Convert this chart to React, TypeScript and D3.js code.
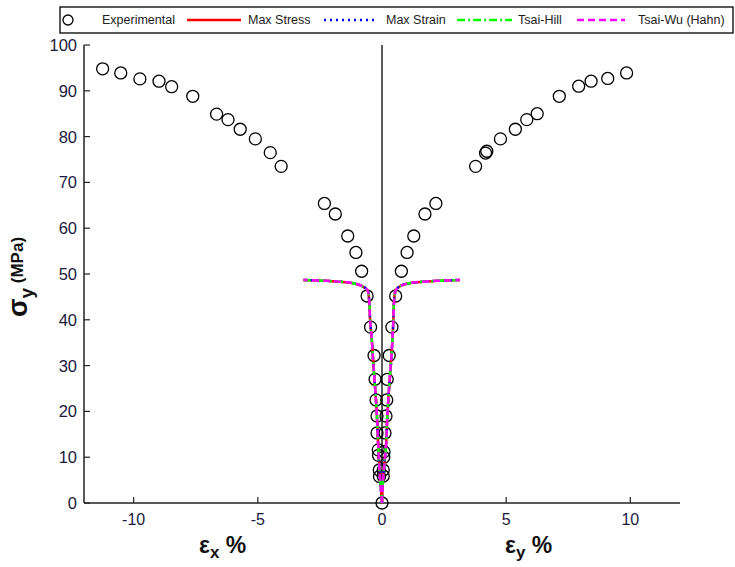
import React from 'react';
import * as d3 from 'd3';

// ---- data ----
const xTicks = [-10, -5, 0, 5, 10];
const yTicks = [0, 10, 20, 30, 40, 50, 60, 70, 80, 90, 100];

// Experimental: transverse strain (εx, negative) vs stress
const expStrainX = [-11.25, -10.52, -9.75, -8.98, -8.47, -7.62, -6.66, -6.2, -5.71, -5.1, -4.5, -4.06, -2.32, -1.88, -1.38, -1.05, -0.82, -0.6, -0.46, -0.32, -0.28, -0.24, -0.2, -0.2, -0.15, -0.14, -0.11, -0.1, 0];
const expStressX = [94.8, 93.9, 92.6, 92.1, 90.9, 88.8, 84.9, 83.7, 81.6, 79.5, 76.5, 73.5, 65.4, 63.1, 58.3, 54.7, 50.6, 45.2, 38.4, 32.2, 27.0, 22.5, 19.0, 15.3, 11.6, 10.4, 7.2, 5.8, 0];

// Experimental: axial strain (εy, positive) vs stress
const expStrainY = [9.85, 9.09, 8.42, 7.92, 7.14, 6.25, 5.83, 5.37, 4.77, 4.17, 4.22, 3.77, 2.17, 1.73, 1.28, 1.01, 0.78, 0.55, 0.4, 0.29, 0.21, 0.19, 0.16, 0.12, 0.08, 0.07, 0.05, 0.05];
const expStressY = [93.9, 92.7, 92.1, 91.0, 88.8, 85.0, 83.7, 81.6, 79.5, 76.4, 76.8, 73.5, 65.4, 63.1, 58.3, 54.7, 50.6, 45.2, 38.4, 32.2, 27.0, 22.5, 19.0, 15.3, 11.2, 10.0, 7.2, 5.9];

// Model predictions (all four criteria overlap)
const curveStress = [0, 5.8, 12.3, 19.6, 25.4, 30.5, 35.6, 40.0, 43.6, 46.5, 47.4, 48.0, 48.5, 48.7];
const curveStrainX = [0, -0.08, -0.15, -0.21, -0.28, -0.35, -0.41, -0.48, -0.51, -0.59, -0.82, -1.16, -2.23, -3.17];
const curveStrainY = [0, 0.05, 0.16, 0.22, 0.29, 0.36, 0.42, 0.46, 0.48, 0.56, 0.75, 1.1, 2.2, 3.14];

const seriesNames = ['Experimental', 'Max Stress', 'Max Strain', 'Tsai-Hill', 'Tsai-Wu (Hahn)'];

const modelStyles = [
  { name: 'Max Stress', color: '#ff0000', dash: '' },
  { name: 'Max Strain', color: '#0000ff', dash: '2,4' },
  { name: 'Tsai-Hill', color: '#00ff00', dash: '8,3,2,3' },
  { name: 'Tsai-Wu (Hahn)', color: '#ff00ff', dash: '7,4' },
];

const FONT = '"Liberation Sans", Arial, sans-serif';

export default function App() {
  const W = 735, H = 567;
  const x = d3.scaleLinear().domain([-12, 12]).range([84, 680]);
  const y = d3.scaleLinear().domain([0, 100]).range([503, 45]);

  const line = d3.line<[number, number]>()
    .x(d => x(d[0]))
    .y(d => y(d[1]))
    .curve(d3.curveCatmullRom);

  const leftPts: [number, number][] = curveStrainX.map((v, i) => [v, curveStress[i]]);
  const rightPts: [number, number][] = curveStrainY.map((v, i) => [v, curveStress[i]]);

  const expPts = [
    ...expStrainX.map((v, i) => [v, expStressX[i]]),
    ...expStrainY.map((v, i) => [v, expStressY[i]]),
  ];

  // legend layout
  const legY = 20;
  const legendItems = [
    { sx: 187, ex: 241, tx: 248 },
    { sx: 324, ex: 377, tx: 386 },
    { sx: 457, ex: 512, tx: 518 },
    { sx: 577, ex: 625, tx: 638 },
  ];

  return (
    <svg width={W} height={H} style={{ position: 'absolute', left: 0, top: 0, background: '#fff' }} fontFamily={FONT}>
      <rect x={0} y={0} width={W} height={H} fill="#fff" />

      {/* axes */}
      <line x1={x(-12)} x2={x(12)} y1={y(0)} y2={y(0)} stroke="#222" strokeWidth={1.5} />
      <line x1={x(-12)} x2={x(-12)} y1={y(0)} y2={y(100)} stroke="#222" strokeWidth={1.5} />
      {xTicks.map(t => (
        <g key={'xt' + t}>
          <line x1={x(t)} x2={x(t)} y1={y(0)} y2={y(0) - 6} stroke="#222" strokeWidth={1.2} />
          <text x={x(t)} y={525} textAnchor="middle" fontSize={16} fill="#1a1a40">{t}</text>
        </g>
      ))}
      {yTicks.map(t => (
        <g key={'yt' + t}>
          <line x1={x(-12)} x2={x(-12) + 6} y1={y(t)} y2={y(t)} stroke="#222" strokeWidth={1.2} />
          <text x={77} y={y(t)} textAnchor="end" dominantBaseline="central" fontSize={16.5} fill="#1a1a40">{t}</text>
        </g>
      ))}

      {/* center vertical line */}
      <line x1={x(0)} x2={x(0)} y1={y(0)} y2={y(100)} stroke="#000" strokeWidth={1.3} />

      {/* experimental points */}
      {expPts.map((p, i) => (
        <circle key={'e' + i} cx={x(p[0])} cy={y(p[1])} r={6} fill="none" stroke="#000" strokeWidth={1.3} />
      ))}

      {/* model curves */}
      {modelStyles.map(m => (
        <g key={m.name}>
          <path d={line(leftPts) || ''} fill="none" stroke={m.color} strokeWidth={2.5} strokeDasharray={m.dash || undefined} />
          <path d={line(rightPts) || ''} fill="none" stroke={m.color} strokeWidth={2.5} strokeDasharray={m.dash || undefined} />
        </g>
      ))}

      {/* axis labels */}
      <text x={199} y={553} fontSize={23} fontWeight="bold" fill="#111">
        ε<tspan fontSize={17} dy={5}>x</tspan><tspan dy={-5}> %</tspan>
      </text>
      <text x={505} y={553} fontSize={23} fontWeight="bold" fill="#111">
        ε<tspan fontSize={17} dy={5}>y</tspan><tspan dy={-5}> %</tspan>
      </text>
      <text transform="translate(27,317) rotate(-90)" fontSize={27} fontWeight="bold" fill="#111">
        σ<tspan fontSize={19} dy={6}>y</tspan><tspan fontSize={17} dy={-10}> (MPa)</tspan>
      </text>

      {/* legend */}
      <rect x={60} y={7} width={673} height={26} fill="#fff" stroke="#000" strokeWidth={1.3} />
      <circle cx={68} cy={legY} r={5} fill="none" stroke="#000" strokeWidth={1.3} />
      <text x={102} y={legY} dominantBaseline="central" fontSize={12.5} fill="#222">{seriesNames[0]}</text>
      {modelStyles.map((m, i) => (
        <g key={'lg' + m.name}>
          <line x1={legendItems[i].sx} x2={legendItems[i].ex} y1={legY} y2={legY} stroke={m.color} strokeWidth={2.5} strokeDasharray={m.dash || undefined} />
          <text x={legendItems[i].tx} y={legY} dominantBaseline="central" fontSize={12.5} fill="#222">{seriesNames[i + 1]}</text>
        </g>
      ))}
    </svg>
  );
}
